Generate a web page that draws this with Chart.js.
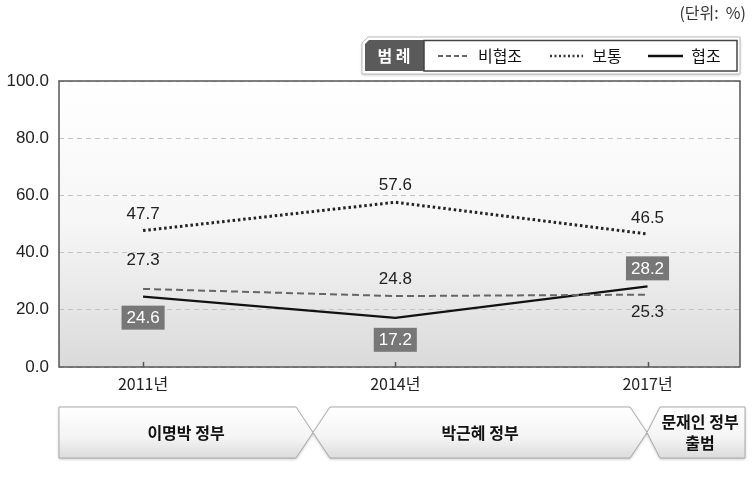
<!DOCTYPE html>
<html>
<head>
<meta charset="utf-8">
<script src="https://cdn.jsdelivr.net/npm/chart.js@4"></script>
<style>
  html, body { margin: 0; padding: 0; background: #fff; }
  #wrap { width: 753px; height: 503px; position: relative; }
</style>
</head>
<body>
<div id="wrap"><canvas id="chart" width="753" height="503"></canvas></div>
<script>
// data
const years = [2011, 2014, 2017];
const yearLabels = ["2011년", "2014년", "2017년"];
const seriesNames = ["비협조", "보통", "협조"];
const nonCoop = [27.3, 24.8, 25.3];
const normal = [47.7, 57.6, 46.5];
const coop = [24.6, 17.2, 28.2];
const yTicks = [0, 20, 40, 60, 80, 100];
const periods = ["이명박 정부", "박근혜 정부", "문재인 정부\n출범"];

const FONT = "'Liberation Sans', Arial, sans-serif";
const KFONT = "'Noto Sans CJK KR', 'Noto Sans', sans-serif";

const toPts = arr => arr.map((v, i) => ({ x: years[i], y: v }));

// label placement per series: offset from point, boxed or not
const labelCfg = [
  { offs: [-30, -18, 17], box: false },
  { offs: [-17, -18, -17], box: false },
  { offs: [21, 22, -18], box: true }
];

// background gradient + frame
const plotBg = {
  id: "plotBg",
  beforeDraw(chart) {
    const { ctx, chartArea: a } = chart;
    const g = ctx.createLinearGradient(0, a.top, 0, a.bottom);
    g.addColorStop(0, "#ffffff");
    g.addColorStop(0.5, "#f6f6f6");
    g.addColorStop(1, "#dadada");
    ctx.save();
    ctx.fillStyle = g;
    ctx.fillRect(a.left, a.top, a.right - a.left, a.bottom - a.top);
    ctx.restore();
  },
  afterDraw(chart) {
    const { ctx, chartArea: a } = chart;
    const xs = chart.scales.x;
    ctx.save();
    ctx.strokeStyle = "#555";
    ctx.lineWidth = 1.5;
    ctx.strokeRect(a.left, a.top, a.right - a.left, a.bottom - a.top);
    ctx.beginPath();
    years.forEach(y => {
      const px = Math.round(xs.getPixelForValue(y)) + 0.5;
      ctx.moveTo(px, a.bottom);
      ctx.lineTo(px, a.bottom - 5);
    });
    ctx.lineWidth = 1.5;
    ctx.stroke();
    ctx.restore();
  }
};

// value labels
const valueLabels = {
  id: "valueLabels",
  afterDatasetsDraw(chart) {
    const { ctx } = chart;
    ctx.save();
    ctx.font = "17px " + FONT;
    ctx.textAlign = "center";
    ctx.textBaseline = "middle";
    chart.data.datasets.forEach((ds, di) => {
      const meta = chart.getDatasetMeta(di);
      const cfg = labelCfg[di];
      meta.data.forEach((pt, i) => {
        const txt = ds.data[i].y.toFixed(1);
        const x = pt.x, y = pt.y + cfg.offs[i];
        if (cfg.box) {
          const w = ctx.measureText(txt).width + 10;
          ctx.fillStyle = "#777";
          ctx.fillRect(x - w / 2, y - 12, w, 24);
          ctx.fillStyle = "#fff";
        } else {
          ctx.fillStyle = "#222";
        }
        ctx.fillText(txt, x, y + 1);
      });
    });
    ctx.restore();
  }
};

// legend box, unit, period chevrons
const decor = {
  id: "decor",
  afterDraw(chart) {
    const { ctx } = chart;
    ctx.save();
    // unit
    ctx.font = "16px " + KFONT;
    ctx.fillStyle = "#333";
    ctx.textAlign = "right";
    ctx.textBaseline = "middle";
    ctx.fillText("(단위:  %)", 746, 13);

    // legend
    ctx.shadowColor = "rgba(0,0,0,0.25)";
    ctx.shadowBlur = 3;
    ctx.shadowOffsetY = 1;
    ctx.fillStyle = "#fff";
    ctx.beginPath();
    ctx.moveTo(368, 37); ctx.lineTo(740, 37); ctx.lineTo(740, 74);
    ctx.lineTo(362, 74); ctx.lineTo(362, 43); ctx.closePath();
    ctx.fill();
    ctx.shadowColor = "transparent";
    ctx.strokeStyle = "#bbb";
    ctx.lineWidth = 1;
    ctx.stroke();
    ctx.fillStyle = "#5a5a5a";
    ctx.beginPath();
    ctx.moveTo(369, 40); ctx.lineTo(424, 40); ctx.lineTo(424, 71);
    ctx.lineTo(365, 71); ctx.lineTo(365, 44); ctx.closePath();
    ctx.fill();
    ctx.strokeStyle = "#444";
    ctx.lineWidth = 1.5;
    ctx.strokeRect(424, 40.5, 313, 30.5);
    ctx.font = "bold 16px " + KFONT;
    ctx.fillStyle = "#fff";
    ctx.textAlign = "center";
    ctx.fillText("범 례", 394, 56);
    const items = [
      { x0: 438, x1: 469, tx: 500, dash: [5, 3], color: "#666", w: 2 },
      { x0: 550, x1: 583, tx: 607, dash: [2, 2.5], color: "#333", w: 2.5 },
      { x0: 648, x1: 683, tx: 706, dash: [], color: "#111", w: 2.5 }
    ];
    ctx.font = "16px " + KFONT;
    items.forEach((it, i) => {
      ctx.beginPath();
      ctx.setLineDash(it.dash);
      ctx.strokeStyle = it.color;
      ctx.lineWidth = it.w;
      ctx.moveTo(it.x0, 56); ctx.lineTo(it.x1, 56);
      ctx.stroke();
      ctx.setLineDash([]);
      ctx.fillStyle = "#111";
      ctx.fillText(seriesNames[i], it.tx, 56);
    });

    // chevrons
    const top = 407, bot = 458, mid = 432.5;
    const shapes = [
      [[59, top], [296, top], [313, mid], [296, bot], [59, bot]],
      [[330, top], [630, top], [647, mid], [630, bot], [330, bot], [313, mid]],
      [[660, top], [745, top], [745, bot], [660, bot], [647, mid]]
    ];
    const centers = [186, 480, 700];
    shapes.forEach((pts, i) => {
      const g = ctx.createLinearGradient(0, top, 0, bot);
      g.addColorStop(0, "#ffffff");
      g.addColorStop(0.6, "#f4f4f4");
      g.addColorStop(1, "#dcdcdc");
      ctx.beginPath();
      pts.forEach((p, j) => j ? ctx.lineTo(p[0], p[1]) : ctx.moveTo(p[0], p[1]));
      ctx.closePath();
      ctx.shadowColor = "rgba(0,0,0,0.3)";
      ctx.shadowBlur = 3;
      ctx.shadowOffsetY = 1;
      ctx.fillStyle = g;
      ctx.fill();
      ctx.shadowColor = "transparent";
      ctx.strokeStyle = "#aaa";
      ctx.lineWidth = 1;
      ctx.stroke();
      ctx.fillStyle = "#111";
      ctx.font = "bold 16px " + KFONT;
      const lines = periods[i].split("\n");
      lines.forEach((ln, k) => {
        ctx.fillText(ln, centers[i], mid + (k - (lines.length - 1) / 2) * 21);
      });
    });
    ctx.restore();
  }
};

new Chart(document.getElementById("chart"), {
  type: "line",
  data: {
    datasets: [
      { label: seriesNames[0], data: toPts(nonCoop), borderColor: "#666", borderWidth: 2, borderDash: [7, 4] },
      { label: seriesNames[1], data: toPts(normal), borderColor: "#222", borderWidth: 3, borderDash: [2.5, 2.8] },
      { label: seriesNames[2], data: toPts(coop), borderColor: "#111", borderWidth: 2.2 }
    ]
  },
  options: {
    responsive: false,
    animation: false,
    layout: { padding: { top: 81, right: 13, left: 0, bottom: 0 } },
    elements: { point: { radius: 0 }, line: { tension: 0, fill: false } },
    plugins: { legend: { display: false }, tooltip: { enabled: false } },
    scales: {
      x: {
        type: "linear",
        min: 2010,
        max: 2018.1,
        afterBuildTicks: s => { s.ticks = years.map(v => ({ value: v })); },
        afterFit: s => { s.height = 136; },
        grid: { display: false, drawTicks: false },
        border: { display: false },
        ticks: {
          padding: 7,
          color: "#222",
          font: { family: KFONT, size: 16 },
          callback: v => yearLabels[years.indexOf(v)]
        }
      },
      y: {
        min: 0,
        max: 100,
        afterBuildTicks: s => { s.ticks = yTicks.map(v => ({ value: v })); },
        afterFit: s => { s.width = 59; },
        grid: { color: "#c4c4c4", lineWidth: 1, drawTicks: false },
        border: { display: false, dash: [5, 4] },
        ticks: {
          padding: 10,
          color: "#222",
          font: { family: FONT, size: 17 },
          callback: v => v.toFixed(1)
        }
      }
    }
  },
  plugins: [plotBg, valueLabels, decor]
});
</script>
</body>
</html>
